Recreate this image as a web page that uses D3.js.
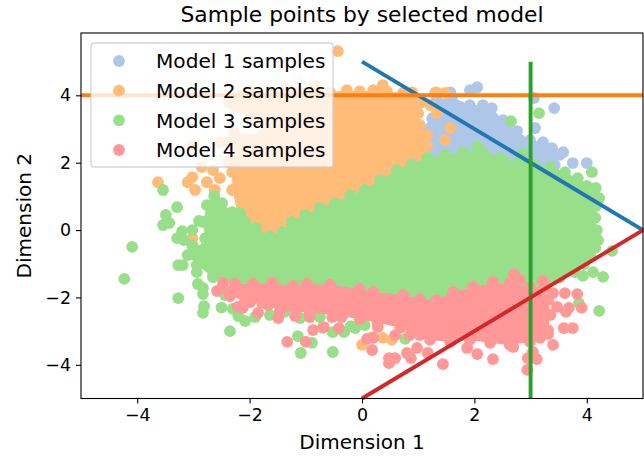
<!DOCTYPE html>
<html>
<head>
<meta charset="utf-8">
<script src="https://cdn.jsdelivr.net/npm/d3@7"></script>
<style>
  html, body { margin: 0; padding: 0; background: #fff; }
  svg { display: block; }
  text { font-family: "DejaVu Sans", sans-serif; fill: #000; }
</style>
</head>
<body>
<div id="chart"></div>
<script>
const labels = ["Model 1 samples", "Model 2 samples", "Model 3 samples", "Model 4 samples"];
const xTicks = [-4, -2, 0, 2, 4];
const yTicks = [-4, -2, 0, 2, 4];

const model1Edge = [[1.25,3.32],[1.33,3.86],[1.60,3.95],[1.92,3.71],[2.15,3.71],[2.31,3.62],[2.51,3.26],[2.76,2.94],[2.99,2.67],[3.22,2.61],[3.38,2.43],[3.52,2.23],[3.43,1.93],[2.46,1.78],[1.21,1.78],[1.03,2.97]];
const model2Edge = [[-2.38,3.80],[-2.17,3.98],[-1.99,4.15],[-1.60,4.01],[-1.33,4.21],[-1.10,4.09],[-0.84,4.30],[-0.57,4.09],[-0.27,4.15],[-0.04,4.12],[0.20,4.15],[0.37,4.30],[0.44,4.12],[0.73,4.07],[0.89,4.09],[1.03,3.77],[1.00,3.47],[1.03,3.12],[1.16,2.82],[1.16,2.49],[1.16,2.08],[-0.04,0.50],[-1.50,-0.30],[-2.17,0.20],[-2.31,1.19],[-2.31,1.72],[-2.38,2.02],[-2.24,2.31],[-2.38,2.61],[-2.28,2.91],[-1.78,2.82],[-1.71,3.12],[-1.99,3.32],[-2.24,3.62]];
const model3Edge = [[-2.95,-0.59],[-2.79,-0.24],[-2.83,0.24],[-2.76,0.74],[-2.63,1.01],[-2.49,0.80],[-2.31,0.53],[-2.08,0.24],[-1.89,0.06],[-1.64,-0.18],[-1.41,-0.06],[-1.25,0.24],[-1.01,0.45],[-0.75,0.65],[-0.48,0.80],[-0.21,1.04],[0.05,1.19],[0.32,1.48],[0.62,1.78],[0.89,1.96],[1.16,2.14],[1.48,2.23],[1.80,2.31],[2.05,2.34],[2.28,2.11],[2.54,2.02],[2.81,2.08],[3.08,1.93],[3.35,1.87],[3.61,1.72],[3.84,1.54],[4.00,1.31],[4.13,1.01],[4.16,0.71],[4.15,0.36],[4.18,0],[4.20,-0.30],[4.15,-0.53],[4.06,-0.77],[3.95,-1.01],[3.79,-1.25],[3.52,-1.42],[3.17,-1.90],[2.46,-2.10],[1.57,-2.20],[0.68,-2.10],[-0.21,-2.00],[-1.10,-1.90],[-1.99,-1.80],[-2.65,-1.40],[-2.94,-1.04],[-3.10,-0.74],[-3.02,-0.45]];
const model4Edge = [[-2.49,-1.72],[-2.26,-1.60],[-1.94,-1.60],[-1.60,-1.57],[-1.23,-1.66],[-0.98,-1.60],[-0.57,-1.63],[-0.04,-1.75],[0.20,-1.84],[0.73,-1.93],[1.03,-2.05],[1.33,-2.08],[1.62,-1.84],[1.98,-1.69],[2.33,-1.60],[2.63,-1.58],[2.99,-1.70],[3.26,-1.69],[3.31,-2.08],[3.35,-2.52],[3.31,-2.97],[3.17,-3.20],[2.99,-3.32],[2.63,-3.41],[2.28,-3.35],[1.92,-3.26],[1.57,-3.32],[1.21,-3.26],[1.03,-3.12],[0.68,-2.90],[0.28,-2.75],[-0.04,-2.65],[-0.39,-2.55],[-0.93,-2.45],[-1.46,-2.40],[-1.78,-2.15],[-2.08,-2.10],[-2.35,-1.96]];

// samples lying apart from the dense part
const model1Stray = [[1.30,4.07],[1.57,4.09],[1.92,4.15],[2.05,4.24],[3.06,3.92],[3.42,3.62],[3.08,3.03],[3.75,1.99],[4.00,1.99],[3.58,2.31],[0.94,3.86]];
const model2Stray = [[-3.63,1.42],[-0.43,5.31],[-3.01,2.52],[-2.53,2.61],[-3.02,1.57],[-3.10,1.42],[-2.85,1.87],[-2.65,1.78],[-2.97,1.19],[-2.76,1.42],[-2.53,1.54],[-2.62,1.19],[-2.69,0.68],[-3.02,-0.24],[-2.65,-1.34],[-2.22,-1.13],[1.32,4.09],[1.48,4.07],[1.33,3.47],[1.57,3.03],[1.48,2.67],[1.21,3.71],[0.18,-3.18],[0.37,-3.20],[0.53,-3.26],[0,-3.41]];
const model3Stray = [[-3.54,1.19],[-3.29,0.68],[-3.49,0.45],[-3.54,0.15],[-3.43,0.21],[-3.20,-0.03],[-3.29,-0.24],[-3.17,-0.30],[-3.02,0],[-2.90,0.27],[-4.09,-0.50],[-4.23,-1.45],[-3.27,-1.04],[-3.19,-1.04],[-2.94,-1.25],[-2.92,-1.60],[-2.83,-1.72],[-2.83,-1.90],[-3.27,-2.02],[-2.81,-2.26],[-2.83,-2.46],[-2.35,-3.00],[-2.30,-2.34],[-2.44,-1.93],[-2.08,-2.70],[-1.90,-2.58],[-1.64,-2.52],[-1.14,-3.15],[-0.89,-3.35],[-1.09,-3.65],[-0.52,-3.62],[-0.52,-3.03],[-0.32,-3.03],[-0.12,-2.91],[-1.10,-2.61],[-0.75,-2.58],[-1.37,-2.43],[0.05,-2.82],[-0.04,-2.52],[2.65,3.23],[3.15,3.47],[2.85,2.28],[2.05,2.49],[2.15,2.28],[2.46,2.14],[4.09,1.72],[4.16,1.25],[4.22,0.95],[4.45,-0.62],[4.29,-1.39],[4.11,-1.25],[3.93,-1.36],[4.22,-2.40],[3.86,-2.17],[0.77,-3.23],[-2.17,0.50],[-2.50,-2.30],[-2.20,-2.55],[-0.70,-2.90],[-0.20,-2.85]];
const model4Stray = [[-2.58,-1.81],[-2.47,-1.57],[-2.21,-2.28],[-2.12,-2.31],[-1.99,-2.14],[-1.85,-2.46],[-1.67,-2.23],[-1.49,-2.61],[-1.19,-2.55],[-0.93,-2.58],[-1.33,-3.32],[-1.00,-3.32],[-0.87,-2.97],[-0.68,-2.88],[-0.41,-2.91],[-0.53,-2.58],[-0.36,-2.58],[2.70,-1.31],[2.81,-1.48],[2.33,-1.54],[3.22,-1.51],[3.40,-1.87],[3.61,-1.87],[3.83,-1.90],[3.47,-2.28],[3.68,-2.31],[3.63,-2.43],[3.91,-2.31],[3.75,-2.91],[3.59,-2.91],[3.40,-3.41],[3.31,-3.09],[3.11,-3.83],[3.04,-3.62],[2.95,-3.80],[2.94,-4.15],[2.69,-3.47],[2.33,-3.83],[2.05,-3.68],[1.87,-3.50],[1.44,-3.98],[1.17,-3.65],[0.98,-3.50],[0.80,-3.65],[0.87,-3.80],[0.59,-3.80],[0.48,-3.95],[0.48,-3.80],[0.18,-3.56],[0.09,-3.23],[0.20,-3.20],[0.28,-2.88],[0.59,-3.12],[0.85,-3.12]];

// decision lines, in plot order
const boundaryLines = [
  [[0, 5], [5, 0]],
  [[-5, 4], [5, 4]],
  [[3, -5], [3, 5]],
  [[0, -5], [5, 0]],
];

const edges = [model1Edge, model2Edge, model3Edge, model4Edge];
const strays = [model1Stray, model2Stray, model3Stray, model4Stray];
const pointColors = ["#aec7e8", "#ffbb78", "#98df8a", "#ff9896"];
const lineColors = ["#1f77b4", "#ff7f0e", "#2ca02c", "#d62728"];

const width = 644;
const height = 457;
const margin = { top: 33, right: 1, bottom: 58.5, left: 81 };
const r = 5.9;

const x = d3.scaleLinear().domain([-5, 5]).range([margin.left, width - margin.right]);
const y = d3.scaleLinear().domain([-5, 5.85]).range([height - margin.bottom, margin.top]);

const svg = d3
  .select("#chart")
  .append("svg")
  .attr("width", width)
  .attr("height", height);

const line = d3
  .line()
  .x((d) => x(d[0]))
  .y((d) => y(d[1]));

const plot = svg.append("g");

edges.forEach((edge, i) => {
  const g = plot.append("g").attr("fill", pointColors[i]);
  g.append("path").attr("d", line(edge) + "Z");
  g.selectAll("circle")
    .data(edge.concat(strays[i]))
    .join("circle")
    .attr("cx", (d) => x(d[0]))
    .attr("cy", (d) => y(d[1]))
    .attr("r", r);
});

plot
  .selectAll(".boundary")
  .data(boundaryLines)
  .join("path")
  .attr("class", "boundary")
  .attr("fill", "none")
  .attr("stroke", (d, i) => lineColors[i])
  .attr("stroke-width", 3.9)
  .attr("d", line);

// frame and axes
const xAxis = svg
  .append("g")
  .attr("transform", `translate(0,${height - margin.bottom})`)
  .call(d3.axisBottom(x).tickValues(xTicks).tickSize(5).tickPadding(5).tickSizeOuter(0));
const yAxis = svg
  .append("g")
  .attr("transform", `translate(${margin.left},0)`)
  .call(d3.axisLeft(y).tickValues(yTicks).tickSize(5).tickPadding(5).tickSizeOuter(0));

[xAxis, yAxis].forEach((a) => {
  a.selectAll("text").style("font-size", "17.4px").style("font-family", '"DejaVu Sans", sans-serif');
  a.selectAll("line").attr("stroke", "#000").attr("stroke-width", 1.1);
  a.select(".domain").remove();
});

svg
  .append("rect")
  .attr("x", margin.left)
  .attr("y", margin.top)
  .attr("width", width - margin.left - margin.right)
  .attr("height", height - margin.top - margin.bottom)
  .attr("fill", "none")
  .attr("stroke", "#000")
  .attr("stroke-width", 1.1);

svg
  .append("text")
  .attr("x", (margin.left + width - margin.right) / 2)
  .attr("y", 22)
  .attr("text-anchor", "middle")
  .style("font-size", "21.8px")
  .text("Sample points by selected model");

svg
  .append("text")
  .attr("x", (margin.left + width - margin.right) / 2)
  .attr("y", 449)
  .attr("text-anchor", "middle")
  .style("font-size", "20px")
  .text("Dimension 1");

svg
  .append("text")
  .attr("transform", `translate(31,${(margin.top + height - margin.bottom) / 2}) rotate(-90)`)
  .attr("text-anchor", "middle")
  .style("font-size", "20px")
  .text("Dimension 2");

// legend
const legend = svg.append("g");
legend
  .append("rect")
  .attr("x", 91)
  .attr("y", 43)
  .attr("width", 242)
  .attr("height", 124)
  .attr("rx", 3)
  .attr("fill", "#fff")
  .attr("fill-opacity", 0.8)
  .attr("stroke", "#ccc")
  .attr("stroke-opacity", 0.8)
  .attr("stroke-width", 1.4);

const rowY = d3.scalePoint().domain(labels).range([61, 150]);
const rows = legend
  .selectAll(".row")
  .data(labels)
  .join("g")
  .attr("class", "row")
  .attr("transform", (d) => `translate(0,${rowY(d)})`);
rows
  .append("circle")
  .attr("cx", 119)
  .attr("r", r)
  .attr("fill", (d, i) => pointColors[i]);
rows
  .append("text")
  .attr("x", 156)
  .attr("dy", "0.36em")
  .style("font-size", "20.1px")
  .text((d) => d);
</script>
</body>
</html>
